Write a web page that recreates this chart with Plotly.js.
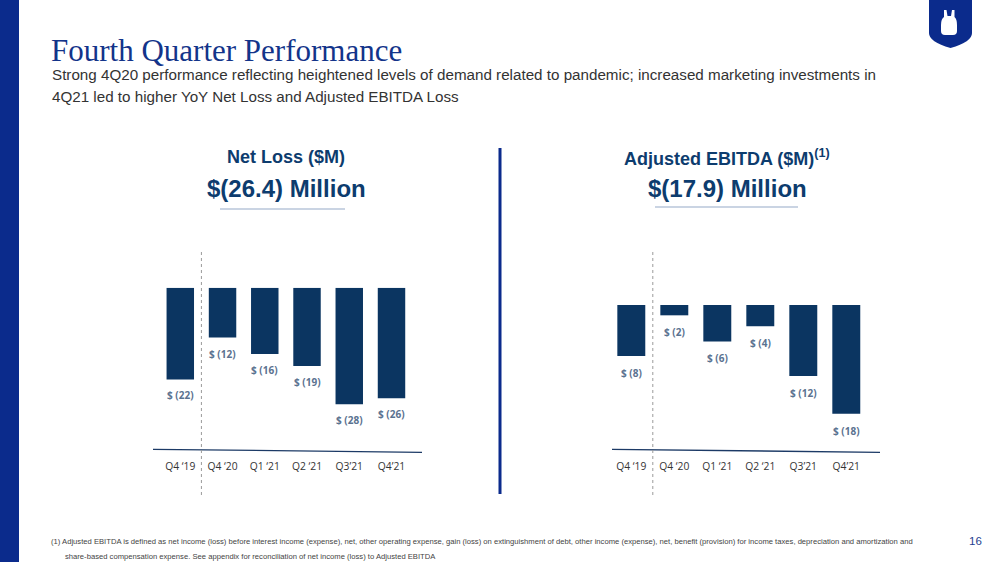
<!DOCTYPE html>
<html>
<head>
<meta charset="utf-8">
<script src="https://cdn.plot.ly/plotly-3.0.1.min.js"></script>
<style>html,body{margin:0;padding:0;background:#fff;}#chart{width:1000px;height:562px;}</style>
</head>
<body>
<div id="chart"></div>
<script>
// ---- data ----
const categories = ["Q4 \u201819", "Q4 \u201820", "Q1 \u201821", "Q2 \u201821", "Q3\u201921", "Q4\u201921"];
const netLoss = [-21.9, -11.9, -15.8, -18.7, -27.8, -26.4];
const netLossLabels = ["$ (22)", "$ (12)", "$ (16)", "$ (19)", "$ (28)", "$ (26)"];
const ebitda = [-8.4, -1.7, -6.0, -3.5, -11.7, -17.9];
const ebitdaLabels = ["$ (8)", "$ (2)", "$ (6)", "$ (4)", "$ (12)", "$ (18)"];

// ---- helpers (pixel -> paper) ----
const W = 1000, H = 562;
const px = x => x / W;
const py = y => 1 - y / H;
function pathOf(pts) {
  return pts.map(p => p[0] + " " + p.slice(1).map((v, i) => i % 2 === 0 ? px(v) : py(v)).reduce((a, v, i) => a + (i % 2 === 0 ? (i ? " " : "") + v : "," + v), "")).join(" ") + " Z";
}

const BAR = "#0b3561";
const LBL = "#5b7290";
const NAVY = "#0d3c6e";
const ROYAL = "#0b2b8c";

const traces = [
  {type: "bar", x: categories, y: netLoss, xaxis: "x", yaxis: "y",
   marker: {color: BAR}, hoverinfo: "skip", showlegend: false},
  {type: "bar", x: categories, y: ebitda, xaxis: "x2", yaxis: "y2",
   marker: {color: BAR}, hoverinfo: "skip", showlegend: false}
];

const annotations = [];
netLoss.forEach((v, i) => annotations.push({
  xref: "x", yref: "y", x: categories[i], y: v, yshift: -16, showarrow: false,
  text: netLossLabels[i], font: {family: "Open Sans", size: 10, color: LBL, weight: 700},
  yanchor: "middle"
}));
ebitda.forEach((v, i) => annotations.push({
  xref: "x2", yref: "y2", x: categories[i], y: v, yshift: -17, showarrow: false,
  text: ebitdaLabels[i], font: {family: "Open Sans", size: 10, color: LBL, weight: 700},
  yanchor: "middle"
}));

function txt(x, y, text, font, xanchor) {
  annotations.push({xref: "paper", yref: "paper", x: px(x), y: py(y), text: text,
    showarrow: false, xanchor: xanchor || "left", yanchor: "middle", font: font, align: "left"});
}
txt(49, 50, "Fourth Quarter Performance", {family: "Liberation Serif", size: 31, color: "#13348a"});
txt(50, 74, "Strong 4Q20 performance reflecting heightened levels of demand related to pandemic; increased marketing investments in",
    {family: "Liberation Sans", size: 15.2, color: "#333333"});
txt(50, 97, "4Q21 led to higher YoY Net Loss and Adjusted EBITDA Loss",
    {family: "Liberation Sans", size: 15.2, color: "#333333"});
txt(286, 157, "<b>Net Loss ($M)</b>", {family: "Liberation Sans", size: 18, color: NAVY}, "center");
txt(286, 188, "<b>$(26.4) Million</b>", {family: "Liberation Sans", size: 24, color: NAVY}, "center");
txt(727, 157, "<b>Adjusted EBITDA ($M)<sup>(1)</sup></b>", {family: "Liberation Sans", size: 18, color: NAVY}, "center");
txt(727, 188, "<b>$(17.9) Million</b>", {family: "Liberation Sans", size: 24, color: NAVY}, "center");
txt(49, 541, "(1) Adjusted EBITDA is defined as net income (loss) before interest income (expense), net, other operating expense, gain (loss) on extinguishment of debt, other income (expense), net, benefit (provision) for income taxes, depreciation and amortization and",
    {family: "Liberation Sans", size: 7.65, color: "#444444"});
txt(63, 556, "share-based compensation expense. See appendix for reconciliation of net income (loss) to Adjusted EBITDA",
    {family: "Liberation Sans", size: 7.65, color: "#444444"});
txt(975, 541, "16", {family: "Liberation Sans", size: 11.5, color: "#1f3f8f"}, "center");

const shapes = [
  // left stripe
  {type: "rect", xref: "paper", yref: "paper", x0: 0, x1: px(19), y0: 0, y1: 1,
   fillcolor: ROYAL, line: {width: 0}, layer: "below"},
  // logo shield
  {type: "path", xref: "paper", yref: "paper",
   path: pathOf([["M", 929, 0], ["L", 929, 33], ["Q", 929, 42, 950.5, 48], ["Q", 972, 42, 972, 33], ["L", 972, 0]]),
   fillcolor: ROYAL, line: {width: 0}},
  {type: "path", xref: "paper", yref: "paper",
   path: pathOf([["M", 944, 10], ["L", 946.5, 10], ["L", 947.5, 16], ["L", 951, 16], ["L", 952, 10], ["L", 954.5, 10],
                 ["L", 954.5, 17], ["Q", 957, 19, 957, 25], ["L", 957, 31], ["Q", 957, 35, 953, 35], ["L", 945, 35],
                 ["Q", 941, 35, 941, 31], ["L", 941, 25], ["Q", 941, 19, 944, 17]]),
   fillcolor: "#ffffff", line: {width: 0}},
  // underlines
  {type: "line", xref: "paper", yref: "paper", x0: px(220), x1: px(345), y0: py(209), y1: py(209),
   line: {color: "#b8c6da", width: 1.5}},
  {type: "line", xref: "paper", yref: "paper", x0: px(655), x1: px(798), y0: py(207), y1: py(207),
   line: {color: "#b8c6da", width: 1.5}},
  // divider
  {type: "line", xref: "paper", yref: "paper", x0: px(500), x1: px(500), y0: py(148), y1: py(494),
   line: {color: ROYAL, width: 3}},
  // baselines
  {type: "line", xref: "paper", yref: "paper", x0: px(153), x1: px(422), y0: py(449.3), y1: py(452.3),
   line: {color: "#1c3a66", width: 1.3}},
  {type: "line", xref: "paper", yref: "paper", x0: px(612), x1: px(880), y0: py(449.3), y1: py(452.3),
   line: {color: "#1c3a66", width: 1.3}},
  // dotted separators
  {type: "line", xref: "x", yref: "paper", x0: 0.5, x1: 0.5, y0: py(252), y1: py(495),
   line: {color: "#9a9a9a", width: 1, dash: "dot"}},
  {type: "line", xref: "x2", yref: "paper", x0: 0.5, x1: 0.5, y0: py(252), y1: py(495),
   line: {color: "#9a9a9a", width: 1, dash: "dot"}}
];

const axX = {type: "category", showgrid: false, zeroline: false, showline: false, ticks: "",
  tickfont: {family: "Open Sans", size: 10.3, color: "#333333"}, fixedrange: true, ticklabelstandoff: 9};
const axY = {showgrid: false, zeroline: false, showline: false, showticklabels: false, ticks: "", fixedrange: true};

const layout = {
  width: W, height: H, margin: {l: 0, r: 0, t: 0, b: 0},
  paper_bgcolor: "#ffffff", plot_bgcolor: "rgba(0,0,0,0)",
  bargap: 0.35, showlegend: false,
  xaxis: Object.assign({}, axX, {domain: [px(153), px(422)], range: [-0.646, 5.722], anchor: "y"}),
  yaxis: Object.assign({}, axY, {domain: [py(450), py(287.7)], range: [-38.74, 0], anchor: "x"}),
  xaxis2: Object.assign({}, axX, {domain: [px(612), px(880)], range: [-0.449, 5.784], anchor: "y2"}),
  yaxis2: Object.assign({}, axY, {domain: [py(450), py(305)], range: [-23.89, 0], anchor: "x2"}),
  annotations: annotations, shapes: shapes
};

Plotly.newPlot("chart", traces, layout, {displayModeBar: false, staticPlot: true});
</script>
</body>
</html>
